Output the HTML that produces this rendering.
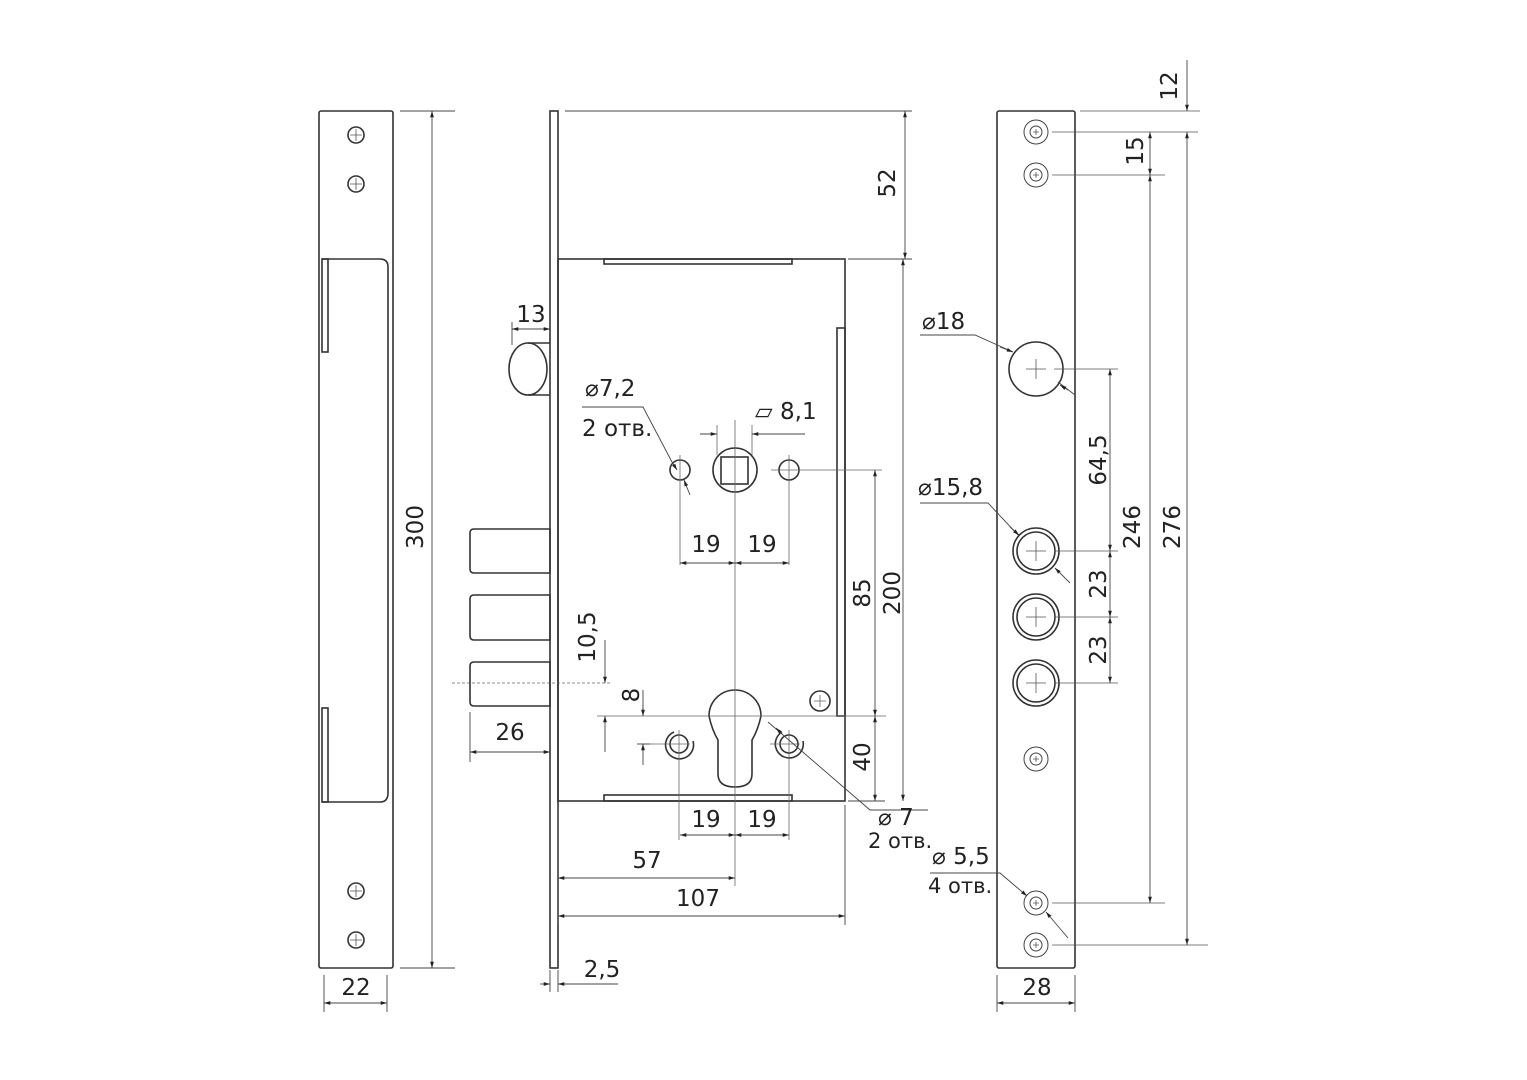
<!DOCTYPE html>
<html><head><meta charset="utf-8"><style>
html,body{margin:0;padding:0;background:#fff;}
svg{display:block}
text{font-family:"DejaVu Sans","Liberation Sans",sans-serif;font-size:23px;fill:#222;}
</style></head><body>
<svg width="1527" height="1080" viewBox="0 0 1527 1080" xmlns="http://www.w3.org/2000/svg">
<defs>
<marker id="a" viewBox="0 0 10 10" refX="10" refY="5" markerWidth="7" markerHeight="7" orient="auto-start-reverse"><path d="M0,2 L10,5 L0,8 z" fill="#222"/></marker>
</defs>
<g fill="none" stroke="#333" stroke-width="1.6">
<!-- LEFT STRIKE PLATE -->
<rect x="319" y="111" width="74" height="857" rx="2"/>
<path d="M322,259 H380 Q388,259 388,267 V793 Q388,802 380,802 H322"/>
<rect x="322" y="259" width="6" height="93"/>
<rect x="322" y="708" width="6" height="94"/>
<circle cx="356" cy="135" r="8"/><circle cx="356" cy="184" r="8"/>
<circle cx="356" cy="891" r="8"/><circle cx="356" cy="940" r="8"/>
</g>
<g stroke="#555" stroke-width="0.8">
<path d="M350,135h12M356,129v12M350,184h12M356,178v12M350,891h12M356,885v12M350,940h12M356,934v12"/>
</g>
<!-- LOCK BODY -->
<g fill="none" stroke="#333" stroke-width="1.6">
<rect x="550" y="111" width="8" height="857"/>
<rect x="558" y="259" width="287" height="542"/>
<rect x="604" y="259" width="188" height="5"/>
<rect x="604" y="795" width="188" height="6"/>
<rect x="837" y="328" width="8" height="388"/>
<ellipse cx="528" cy="369" rx="19" ry="26"/>
<path d="M528,343H550M528,395H550"/>
<path d="M474,529H550V573H474Q470,573 470,569V533Q470,529 474,529"/>
<path d="M474,595H550V640H474Q470,640 470,636V599Q470,595 474,595"/>
<path d="M474,662H550V706H474Q470,706 470,702V666Q470,662 474,662"/>
<circle cx="735" cy="470" r="22"/>
<rect x="721" y="457" width="27" height="27"/>
<circle cx="680" cy="470" r="10"/>
<circle cx="789" cy="470" r="10"/>
<path d="M709,716 A26,26 0 1 1 761,716 Q758,730 752,740 V774 Q752,787 735,787 Q718,787 718,774 V740 Q712,730 709,716 Z"/>
<circle cx="679" cy="744" r="9"/><path d="M674,732 A14,14 0 1 0 693,741"/>
<circle cx="789" cy="744" r="9"/><path d="M782,732 A14,14 0 1 0 803,741"/>
<circle cx="820" cy="701" r="10"/>
</g>
<g stroke="#666" stroke-width="0.8" fill="none">
<path d="M814,701h12M820,695v12"/>
<!-- centerlines -->
<path d="M735,420V886M680,455V565M789,455V565M679,730V840M789,730V840"/>
<path d="M771,470H882M597,716H886M770,744H800M641,744H690M603,716H650"/>
<path d="M452,683H610" stroke-dasharray="3,2"/>
<path d="M717,425V455M752,425V455"/>
</g>
<!-- DIMENSIONS lock -->
<g stroke="#444" stroke-width="0.9" fill="none">
<path d="M565,111H912M848,259H912"/>
<path d="M905,111V259" marker-start="url(#a)" marker-end="url(#a)"/>
<path d="M903,259V801" marker-start="url(#a)" marker-end="url(#a)"/>
<path d="M848,801H885"/>
<path d="M875,470V716" marker-start="url(#a)" marker-end="url(#a)"/>
<path d="M875,716V801" marker-start="url(#a)" marker-end="url(#a)"/>
<path d="M512,329H550" marker-start="url(#a)" marker-end="url(#a)"/><path d="M512,322V345"/>
<path d="M470,752H550" marker-start="url(#a)" marker-end="url(#a)"/><path d="M470,712V762"/>
<path d="M605,640V683" marker-end="url(#a)"/><path d="M605,716V752" marker-start="url(#a)"/>
<path d="M643,705V716" /><path d="M643,690V716" marker-end="url(#a)"/><path d="M643,765V744" marker-end="url(#a)"/><path d="M637,744H650"/>
<path d="M680,563H735" marker-start="url(#a)" marker-end="url(#a)"/>
<path d="M735,563H789" marker-start="url(#a)" marker-end="url(#a)"/>
<path d="M680,835H735" marker-start="url(#a)" marker-end="url(#a)"/>
<path d="M735,835H789" marker-start="url(#a)" marker-end="url(#a)"/>
<path d="M558,878H735" marker-start="url(#a)" marker-end="url(#a)"/>
<path d="M558,916H845" marker-start="url(#a)" marker-end="url(#a)"/>
<path d="M558,805V925M845,805V925"/>
<path d="M700,434H717" marker-end="url(#a)"/><path d="M805,434H752" marker-end="url(#a)"/>
<path d="M540,984H550" marker-end="url(#a)"/><path d="M618,984H558" marker-end="url(#a)"/><path d="M550,970V992M558,970V992"/>
<path d="M582,407H643L672,462" /><path d="M672,462L677,470" marker-end="url(#a)"/><path d="M690,495L684,480" marker-end="url(#a)"/>
<path d="M768,722L870,810H928" /><path d="M782,734L776,728" marker-end="url(#a)"/>
<!-- left strike dims -->
<path d="M400,111H455M400,968H455"/>
<path d="M432,111V968" marker-start="url(#a)" marker-end="url(#a)"/>
<path d="M324,975V1012M387,975V1012"/>
<path d="M324,1003H387" marker-start="url(#a)" marker-end="url(#a)"/>
</g>
<!-- RIGHT PLATE -->
<g fill="none" stroke="#333" stroke-width="1.6">
<rect x="997" y="111" width="78" height="857" rx="2"/>
<circle cx="1036" cy="369" r="27"/>
<circle cx="1036" cy="551" r="23"/><circle cx="1036" cy="551" r="19"/>
<circle cx="1036" cy="617" r="23"/><circle cx="1036" cy="617" r="19"/>
<circle cx="1036" cy="683" r="23"/><circle cx="1036" cy="683" r="19"/>
</g>
<g fill="none" stroke="#444" stroke-width="1">
<circle cx="1036" cy="132" r="12"/><circle cx="1036" cy="132" r="6"/>
<circle cx="1036" cy="175" r="12"/><circle cx="1036" cy="175" r="6"/>
<circle cx="1036" cy="759" r="12"/><circle cx="1036" cy="759" r="6"/>
<circle cx="1036" cy="903" r="12"/><circle cx="1036" cy="903" r="6"/>
<circle cx="1036" cy="945" r="12"/><circle cx="1036" cy="945" r="6"/>
</g>
<g stroke="#555" stroke-width="0.8" fill="none">
<path d="M1026,369h20M1036,359v20M1026,551h20M1036,541v20M1026,617h20M1036,607v20M1026,683h20M1036,673v20"/>
<path d="M1033,132h6M1036,129v6M1033,175h6M1036,172v6M1033,759h6M1036,756v6M1033,903h6M1036,900v6M1033,945h6M1036,942v6"/>
<path d="M1052,132H1198M1052,175H1165M1052,903H1165M1052,945H1208M1080,111H1200"/>
<path d="M1054,369H1118M1054,551H1118M1054,617H1118M1054,683H1118"/>
</g>
<g stroke="#444" stroke-width="0.9" fill="none">
<path d="M1187,60V111" marker-end="url(#a)"/><path d="M1187,132V945" marker-start="url(#a)" marker-end="url(#a)"/>
<path d="M1150,132V175" marker-start="url(#a)" marker-end="url(#a)"/>
<path d="M1150,175V903" marker-start="url(#a)" marker-end="url(#a)"/>
<path d="M1110,369V551" marker-start="url(#a)" marker-end="url(#a)"/>
<path d="M1110,551V617" marker-start="url(#a)" marker-end="url(#a)"/>
<path d="M1110,617V683" marker-start="url(#a)" marker-end="url(#a)"/>
<path d="M920,335H975L1013,352"/><path d="M1000,347L1013,352" marker-end="url(#a)"/><path d="M1075,395L1058,382" /><path d="M1068,390L1060,385" marker-end="url(#a)"/>
<path d="M920,503H988L1018,535"/><path d="M1010,527L1019,535" marker-end="url(#a)"/><path d="M1070,583L1055,568" marker-end="url(#a)"/>
<path d="M930,873H1000L1027,896" marker-end="url(#a)"/><path d="M1068,938L1046,912" marker-end="url(#a)"/>
<path d="M997,975V1012M1075,975V1012"/>
<path d="M997,1003H1075" marker-start="url(#a)" marker-end="url(#a)"/>
</g>
<!-- TEXT -->
<text x="356" y="995" text-anchor="middle">22</text>
<text transform="translate(423,527) rotate(-90)" text-anchor="middle">300</text>
<text x="531" y="322" text-anchor="middle">13</text>
<text x="585" y="396">⌀7,2</text>
<text x="582" y="436">2 отв.</text>
<text x="755" y="419">▱ 8,1</text>
<text x="706" y="552" text-anchor="middle">19</text>
<text x="762" y="552" text-anchor="middle">19</text>
<text transform="translate(595,637) rotate(-90)" text-anchor="middle">10,5</text>
<text transform="translate(639,695) rotate(-90)" text-anchor="middle">8</text>
<text x="510" y="740" text-anchor="middle">26</text>
<text x="706" y="827" text-anchor="middle">19</text>
<text x="762" y="827" text-anchor="middle">19</text>
<text x="647" y="868" text-anchor="middle">57</text>
<text x="698" y="906" text-anchor="middle">107</text>
<text x="602" y="977" text-anchor="middle">2,5</text>
<text transform="translate(895,183) rotate(-90)" text-anchor="middle">52</text>
<text transform="translate(870,593) rotate(-90)" text-anchor="middle">85</text>
<text transform="translate(900,593) rotate(-90)" text-anchor="middle">200</text>
<text transform="translate(870,757) rotate(-90)" text-anchor="middle">40</text>
<text x="878" y="825">⌀ 7</text>
<text x="868" y="848" style="font-size:21px">2 отв.</text>
<text x="922" y="329">⌀18</text>
<text x="918" y="495">⌀15,8</text>
<text x="932" y="864">⌀ 5,5</text>
<text x="928" y="893" style="font-size:21px">4 отв.</text>
<text x="1037" y="995" text-anchor="middle">28</text>
<text transform="translate(1177,86) rotate(-90)" text-anchor="middle">12</text>
<text transform="translate(1143,151) rotate(-90)" text-anchor="middle">15</text>
<text transform="translate(1106,460) rotate(-90)" text-anchor="middle">64,5</text>
<text transform="translate(1140,527) rotate(-90)" text-anchor="middle">246</text>
<text transform="translate(1180,527) rotate(-90)" text-anchor="middle">276</text>
<text transform="translate(1106,584) rotate(-90)" text-anchor="middle">23</text>
<text transform="translate(1106,650) rotate(-90)" text-anchor="middle">23</text>
</svg>
</body></html>
